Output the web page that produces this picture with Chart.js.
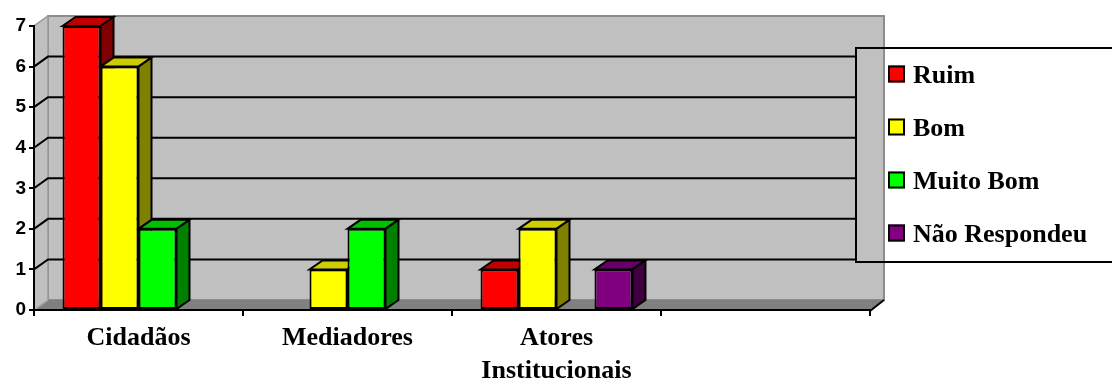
<!DOCTYPE html>
<html>
<head>
<meta charset="utf-8">
<script src="https://cdn.jsdelivr.net/npm/chart.js@4.4.0/dist/chart.umd.min.js"></script>
<style>
  html, body { margin: 0; padding: 0; background: #ffffff; }
  #wrap { width: 1112px; height: 382px; }
</style>
</head>
<body>
<div id="wrap"><canvas id="chart" width="1112" height="382"></canvas></div>
<script>
// Categories (the last slot is an empty category on the axis)
const categories = [['Cidadãos'], ['Mediadores'], ['Atores', 'Institucionais'], ''];

// Series values per category
const ruim         = [7, 0, 1, null];
const bom          = [6, 1, 2, null];
const muitoBom     = [2, 2, 0, null];
const naoRespondeu = [0, 0, 1, null];

const seriesNames = ['Ruim', 'Bom', 'Muito Bom', 'Não Respondeu'];

// Value axis
const yMin = 0;
const yMax = 7;
const yStep = 1;

// Face colours: front, top, side
const palette = [
  { front: '#FF0000', top: '#C00000', side: '#800000' },
  { front: '#FFFF00', top: '#CCCC00', side: '#808000' },
  { front: '#00FF00', top: '#00C000', side: '#008000' },
  { front: '#800080', top: '#660066', side: '#400040' }
];

const seriesValues = [ruim, bom, muitoBom, naoRespondeu];

// Depth of the walls and of the bars (pixels right / up)
const WALL_DX = 14, WALL_DY = 10;
const BAR_DX = 13, BAR_DY = 9;

// Legend box
const LEGEND = { left: 856, top: 48, bottom: 262, firstRow: 74, rowGap: 53, box: 17, boxX: 888, textX: 913 };
const SERIF = '"Liberation Serif", "Times New Roman", serif';

function poly(ctx, pts, fill, stroke, lw) {
  ctx.beginPath();
  ctx.moveTo(pts[0][0], pts[0][1]);
  for (let i = 1; i < pts.length; i++) ctx.lineTo(pts[i][0], pts[i][1]);
  ctx.closePath();
  if (fill) { ctx.fillStyle = fill; ctx.fill(); }
  if (stroke) { ctx.strokeStyle = stroke; ctx.lineWidth = lw || 1; ctx.stroke(); }
}

const depthPlugin = {
  id: 'depth3d',
  beforeDraw(chart) {
    const ctx = chart.ctx;
    const y = chart.scales.y;
    const L = chart.chartArea.left, R = chart.chartArea.right;
    const T = y.getPixelForValue(yMax), B = y.getPixelForValue(yMin);
    ctx.save();
    ctx.fillStyle = '#ffffff';
    ctx.fillRect(0, 0, chart.width, chart.height);

    // back wall
    poly(ctx, [[L + WALL_DX, T - WALL_DY], [R + WALL_DX, T - WALL_DY], [R + WALL_DX, B - WALL_DY], [L + WALL_DX, B - WALL_DY]], '#C0C0C0', '#8C8C8C', 2);
    // side wall
    poly(ctx, [[L, B], [L, T], [L + WALL_DX, T - WALL_DY], [L + WALL_DX, B - WALL_DY]], '#C0C0C0', '#999999', 1.5);
    // floor
    poly(ctx, [[L, B], [R, B], [R + WALL_DX, B - WALL_DY], [L + WALL_DX, B - WALL_DY]], '#808080', null);
    ctx.strokeStyle = '#AAAAAA';
    ctx.lineWidth = 1.5;
    ctx.beginPath();
    ctx.moveTo(L, B); ctx.lineTo(L + WALL_DX, B - WALL_DY);
    ctx.stroke();

    // gridlines on side and back walls
    ctx.strokeStyle = '#000000';
    ctx.lineWidth = 2;
    y.ticks.forEach(t => {
      if (t.value <= yMin || t.value >= yMax) return;
      const py = y.getPixelForValue(t.value);
      ctx.beginPath();
      ctx.moveTo(L, py);
      ctx.lineTo(L + WALL_DX, py - WALL_DY);
      ctx.lineTo(LEGEND.left, py - WALL_DY);
      ctx.stroke();
    });

    // right edge of the floor
    ctx.beginPath();
    ctx.moveTo(R, B + 1);
    ctx.lineTo(R + WALL_DX, B - WALL_DY);
    ctx.stroke();
    ctx.restore();
  },
  beforeDatasetsDraw(chart) {
    const ctx = chart.ctx;
    ctx.save();
    ctx.lineJoin = 'miter';
    chart.data.datasets.forEach((ds, di) => {
      const meta = chart.getDatasetMeta(di);
      meta.data.forEach((bar, i) => {
        const v = ds.data[i];
        if (v === null || v === undefined || v <= 0) return;
        const left = bar.x - bar.width / 2, right = bar.x + bar.width / 2;
        const top = bar.y, base = bar.base;
        // top face
        poly(ctx, [[left, top], [right, top], [right + BAR_DX, top - BAR_DY], [left + BAR_DX, top - BAR_DY]], palette[di].top, '#000000', 2);
        // side face
        poly(ctx, [[right, top], [right + BAR_DX, top - BAR_DY], [right + BAR_DX, base - BAR_DY], [right, base]], palette[di].side, '#000000', 2);
      });
    });
    ctx.restore();
  },
  afterDraw(chart) {
    const ctx = chart.ctx;
    ctx.save();
    // legend frame
    ctx.strokeStyle = '#000000';
    ctx.lineWidth = 2;
    ctx.strokeRect(LEGEND.left, LEGEND.top, chart.width - LEGEND.left + 4, LEGEND.bottom - LEGEND.top);
    // legend entries
    ctx.font = 'bold 26px ' + SERIF;
    ctx.textBaseline = 'alphabetic';
    ctx.textAlign = 'left';
    chart.data.datasets.forEach((ds, i) => {
      const cy = LEGEND.firstRow + i * LEGEND.rowGap;
      const s = LEGEND.box;
      ctx.fillStyle = ds.backgroundColor;
      ctx.fillRect(LEGEND.boxX, cy - s / 2, s, s);
      ctx.lineWidth = 2;
      ctx.strokeStyle = '#000000';
      ctx.strokeRect(LEGEND.boxX + 1, cy - s / 2 + 1, s - 2, s - 2);
      ctx.fillStyle = '#000000';
      ctx.fillText(ds.label, LEGEND.textX, cy + 8.7);
    });
    ctx.restore();
  }
};

const datasets = seriesNames.map((name, i) => ({
  label: name,
  data: seriesValues[i],
  backgroundColor: palette[i].front,
  borderColor: '#000000',
  borderWidth: 2,
  borderSkipped: false,
  categoryPercentage: 0.727,
  barPercentage: 1.0
}));

new Chart(document.getElementById('chart'), {
  type: 'bar',
  data: { labels: categories, datasets: datasets },
  options: {
    responsive: false,
    animation: false,
    devicePixelRatio: 1,
    layout: { padding: { left: 0, top: 26, right: 242, bottom: 0 } },
    plugins: {
      legend: { display: false },
      tooltip: { enabled: false }
    },
    scales: {
      x: {
        afterFit(scale) { scale.height = 72; },
        grid: { offset: true, drawOnChartArea: false, drawTicks: true, tickLength: 6, color: '#000000', lineWidth: 2 },
        border: { display: true, color: '#000000', width: 2 },
        ticks: {
          color: '#000000',
          padding: 5,
          maxRotation: 0,
          autoSkip: false,
          font: { family: SERIF, size: 26, weight: 'bold', lineHeight: 1.3 }
        }
      },
      y: {
        min: yMin,
        max: yMax,
        afterFit(scale) { scale.width = 34; },
        grid: { drawOnChartArea: false, drawTicks: true, tickLength: 5, color: '#000000', lineWidth: 2 },
        border: { display: true, color: '#000000', width: 2 },
        ticks: {
          stepSize: yStep,
          color: '#000000',
          padding: 3,
          font: { family: '"Liberation Sans", Arial, sans-serif', size: 19, weight: 'bold' }
        }
      }
    }
  },
  plugins: [depthPlugin]
});
</script>
</body>
</html>
